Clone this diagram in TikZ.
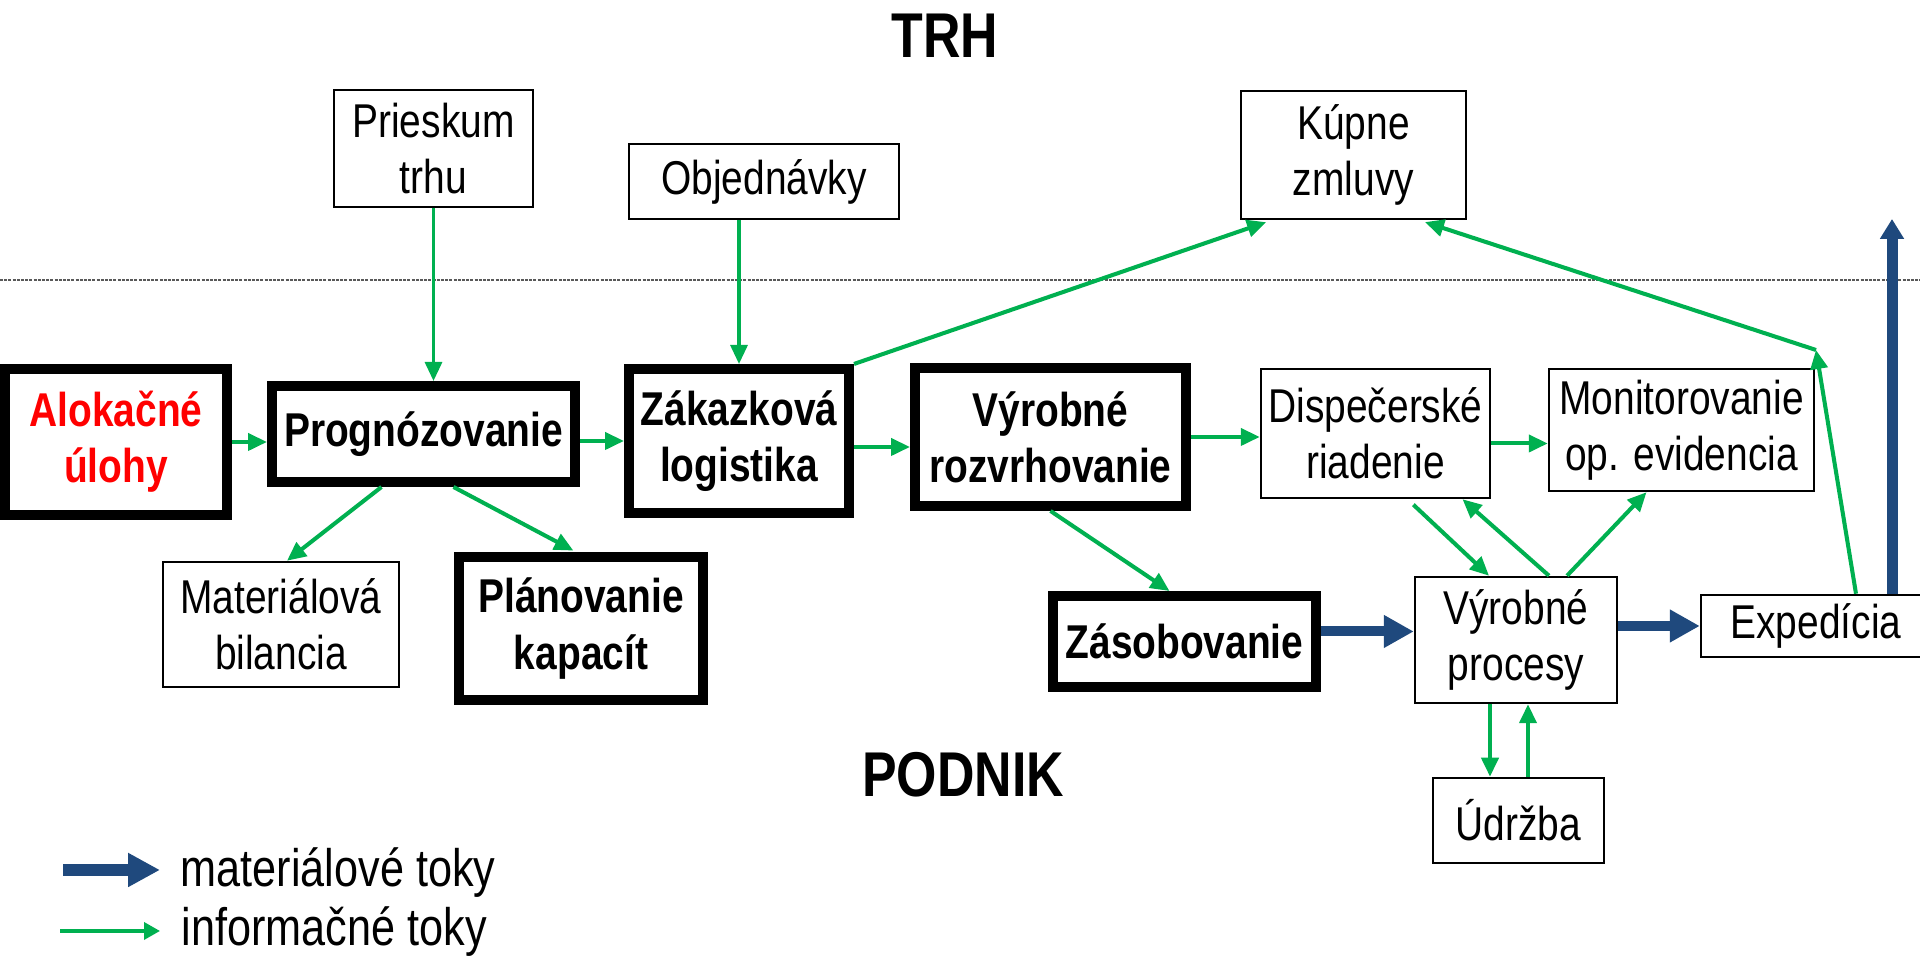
\documentclass[tikz,border=0pt]{standalone}
\usepackage{fontspec}
\setmainfont{Liberation Sans}[FakeStretch=0.82]
\usetikzlibrary{arrows.meta,positioning,calc}
\definecolor{infogreen}{HTML}{00B050}
\definecolor{matblue}{HTML}{1F497D}
\definecolor{alokred}{HTML}{FF0000}
\tikzset{
  >=Latex,
  box/.style={draw,line width=0.25mm,inner sep=0pt,align=center,font=\fontsize{13.5}{16}\selectfont},
  bigbox/.style={box,line width=1mm,font=\fontsize{13.5}{16}\selectfont\bfseries},
  info/.style={-{Triangle[length=1.9mm,width=1.7mm]},infogreen,line width=1.15pt},
  flow/.style={-{Triangle[length=3mm,width=3.1mm]},matblue,line width=1mm},
  title/.style={font=\fontsize{18}{21}\selectfont\bfseries},
  legend/.style={font=\fontsize{15}{18}\selectfont,inner sep=0pt}
}

\begin{document}
\begin{tikzpicture}[x=1mm,y=1mm]
  \useasboundingbox (0,0) rectangle (192,96);

  % Market / company border
  \draw[gray!70!black,line width=0.5pt,dash pattern=on 0.3mm off 0.12mm] (0,68) -- (192,68);
  \node[title] (trh)    at (94.5,92.45) {TRH};
  \node[title] (podnik) at (96.3,18.55) {PODNIK};

  % Market side
  \node[box,minimum width=19.9mm,minimum height=11.7mm] (pries) at (43.35,81.15) {Prieskum\\trhu};
  \node[box,minimum width=27mm,minimum height=7.5mm]    (objed) at (76.4,77.85) {Objednávky};
  \node[box,minimum width=22.5mm,minimum height=12.8mm] (kupne) at (135.35,80.5) {Kúpne\\zmluvy};

  % Planning chain
  \node[bigbox,minimum width=22.2mm,minimum height=14.6mm,text=alokred] (alok) at (11.6,51.8) {Alokačné\\úlohy};
  \node[bigbox,minimum width=30.3mm,minimum height=9.6mm]  (prog) at (42.35,52.6) {Prognózovanie};
  \node[bigbox,minimum width=22mm,minimum height=14.4mm]   (zak)  at (73.9,51.9) {Zákazková\\logistika};
  \node[bigbox,minimum width=27.1mm,minimum height=13.8mm] (vyrr) at (105.05,52.3) {Výrobné\\rozvrhovanie};
  \node[box,minimum width=22.9mm,minimum height=12.9mm]    (disp) at (137.55,52.65) {Dispečerské\\riadenie};
  \node[box,minimum width=26.5mm,minimum height=12.2mm]    (monit) at (168.15,53) {Monitorovanie\\op. evidencia};

  % Lower row
  \node[box,minimum width=23.6mm,minimum height=12.5mm]    (mat)  at (28.1,33.55) {Materiálová\\bilancia};
  \node[bigbox,minimum width=24.4mm,minimum height=14.3mm] (plan) at (58.1,33.15) {Plánovanie\\kapacít};
  \node[bigbox,minimum width=26.3mm,minimum height=9.1mm]  (zas)  at (118.45,31.85) {Zásobovanie};
  \node[box,minimum width=20.2mm,minimum height=12.6mm]    (vp)   at (151.6,32) {Výrobné\\procesy};
  \node[box,minimum width=23mm,minimum height=6.2mm]       (exp)  at (181.6,33.4) {Expedícia};
  \node[box,minimum width=17.1mm,minimum height=8.5mm]     (udr)  at (151.85,13.95) {Údržba};

  \coordinate (knee) at (181.6,61);
  \coordinate (mkt)  at (189.2,74.1);

  % Information flows
  \draw[info,line width=0.9pt] (pries.south) -- (pries.south |- prog.north);
  \draw[info,line width=0.9pt] (objed.south -| zak.north) -- (zak.north);
  \draw[info] (alok.east) -- (alok.east -| prog.west);
  \draw[info] (prog.east |- zak.west) -- (zak.west);
  \draw[info] ([yshift=-0.6mm]zak.east) -- ([yshift=-0.6mm]zak.east -| vyrr.west);
  \draw[info] (vyrr.east) -- (vyrr.east -| disp.west);
  \draw[info] ([yshift=-1mm]disp.east) -- ([yshift=-1mm]disp.east -| monit.west);
  \draw[info] ([xshift=-4.2mm]prog.south) -- ([xshift=0.6mm]mat.north);
  \draw[info,shorten >=0.3mm] ([xshift=3mm]prog.south) -- ([xshift=-0.5mm]plan.north);
  \draw[info,shorten >=0.6mm] (zak.north east) -- ([xshift=3.2mm]kupne.south west);
  \draw[info] ([xshift=4mm]exp.north) -- (knee);
  \draw[info,shorten >=0.6mm] (knee) -- ([xshift=-4.8mm]kupne.south east);
  \draw[info] (vyrr.south) -- ([xshift=-1.5mm]zas.north);
  \draw[info,shorten <=0.8mm] ([xshift=3.2mm]disp.south) -- ([xshift=-2.7mm]vp.north);
  \draw[info] ([xshift=3.3mm]vp.north) -- ([xshift=8.7mm]disp.south);
  \draw[info] ([xshift=5.1mm]vp.north) -- ([xshift=-3.5mm]monit.south);
  \draw[info] ([xshift=-2.6mm]vp.south) -- ([xshift=-2.6mm]vp.south |- udr.north);
  \draw[info] ([xshift=1.2mm]vp.south |- udr.north) -- ([xshift=1.2mm]vp.south);

  % Material flows
  \draw[flow] ([yshift=1mm]zas.east) -- ([yshift=1mm]zas.east -| vp.west);
  \draw[flow] (vp.east |- exp.west) -- (exp.west);
  \draw[flow,line width=1.1mm,-{Triangle[length=2mm,width=2.3mm]}] (exp.north -| mkt) -- (mkt);

  % Legend
  \coordinate (lgm) at (6.3,9);
  \coordinate (lgi) at (6,2.9);
  \draw[flow,line width=1.25mm,-{Triangle[length=3.2mm,width=3.2mm]}] (lgm) -- ++(9.7,0);
  \draw[info,line width=1pt,-{Triangle[length=1.6mm,width=1.7mm]}] (lgi) -- ++(10,0);
  \node[legend,anchor=base west] (lgmat)  at (18,7.3) {materiálové toky};
  \node[legend,anchor=base west] (lginfo) at (18.1,1.4) {informačné toky};
\end{tikzpicture}
\end{document}
